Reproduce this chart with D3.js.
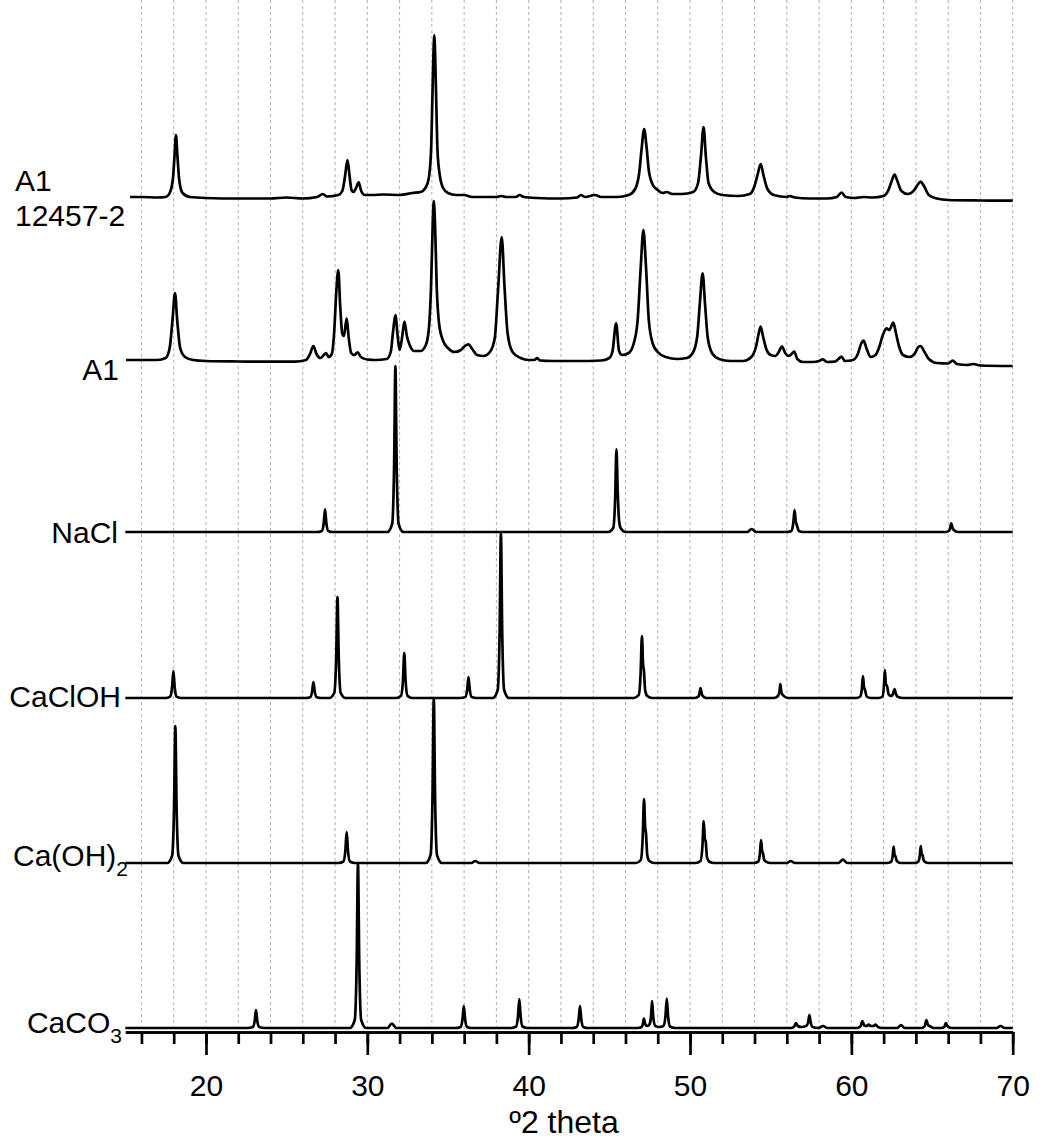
<!DOCTYPE html>
<html><head><meta charset="utf-8">
<script src="https://cdn.jsdelivr.net/npm/d3@7"></script>
<style>body{margin:0;background:#fff}svg{display:block}</style>
</head><body><svg id="c" width="1040" height="1147"></svg>
<script>
// ---------- DATA (2θ in degrees, intensity in relative counts) ----------
const seriesNames = ["CaCO3", "Ca(OH)2", "CaClOH", "NaCl", "A1", "A1 12457-2"];
const seriesOffsets = [0, 165, 330, 496, 662, 827];

const caco3 = [[15,0],[22.6,0],[22.9,1],[23.02,7],[23.1,18],[23.18,7],[23.3,1],[23.6,0],
[28.92,0],[29.22,8],[29.34,66],[29.42,165],[29.5,66],[29.62,8],[29.92,0],
[31.25,0],[31.52,4.5],[31.8,0],
[35.48,0],[35.78,1.1],[35.9,9],[35.98,22],[36.06,9],[36.18,1.1],[36.48,0],
[38.92,0],[39.22,1.5],[39.34,12],[39.42,29],[39.5,12],[39.62,1.5],[39.92,0],
[42.68,0],[42.98,1.1],[43.1,9],[43.18,22],[43.26,9],[43.38,1.1],[43.68,0],
[46.75,0],[47.0,1],[47.08,4],[47.14,9.5],[47.22,4],[47.35,2],[47.5,4],[47.58,11],[47.65,27],[47.72,11],[47.85,2],[48.1,1],[48.35,2],[48.48,12],[48.56,29.5],[48.64,12],[48.76,1.5],[49.06,0],
[56.3,0],[56.48,2],[56.56,5],[56.68,2],[56.9,1],[57.2,2],[57.32,5.5],[57.4,13],[57.48,5.5],[57.6,1],[57.95,0],[58.25,2],[58.5,0],
[60.35,0],[60.58,2],[60.68,7],[60.8,2.5],[60.95,2],[61.07,3.5],[61.2,2],[61.38,2],[61.5,3.5],[61.65,1],[61.9,0],
[62.85,0],[63.08,3],[63.3,0],
[64.35,0],[64.55,2],[64.65,8],[64.75,3],[64.85,2],[65.1,0],
[65.6,0],[65.78,1.5],[65.85,5],[65.95,2],[66.2,0],
[69.0,0],[69.25,2],[69.5,0],[70,0]];

const caoh2 = [[15,0],[17.6,0],[17.9,7],[18.02,55],[18.1,137],[18.18,55],[18.3,7],[18.6,0],
[28.22,0],[28.52,1.5],[28.64,12.5],[28.72,31],[28.8,12.5],[28.92,1.5],[29.22,0],
[33.62,0],[33.92,8],[34.04,66],[34.12,165],[34.2,66],[34.32,8],[34.62,0],
[36.45,0],[36.69,2],[36.95,0],
[46.65,0],[46.95,3],[47.07,26],[47.15,64],[47.22,36],[47.27,30],[47.35,8],[47.48,2],[47.78,0],
[50.35,0],[50.65,2],[50.77,17],[50.85,42],[50.92,24],[50.97,22],[51.05,6],[51.18,1.5],[51.48,0],
[53.95,0],[54.22,1.2],[54.33,9],[54.4,23],[54.47,12],[54.52,10],[54.6,3],[54.75,1],[55.0,0],
[56.0,0],[56.24,2],[56.5,0],
[59.2,0],[59.47,3.3],[59.75,0],
[62.2,0],[62.45,1],[62.56,7],[62.62,16.3],[62.68,8],[62.73,7],[62.82,2],[63.05,0],
[63.88,0],[64.13,1],[64.24,7],[64.3,17],[64.36,9],[64.41,8],[64.5,2],[64.75,0],[70,0]];

const cacloh = [[15,0],[17.48,0],[17.78,1.4],[17.9,11],[17.98,27],[18.06,11],[18.18,1.4],[18.48,0],
[26.16,0],[26.46,0.8],[26.58,6.5],[26.66,16],[26.74,6.5],[26.86,0.8],[27.16,0],
[27.65,0],[27.95,5],[28.07,40],[28.15,101],[28.23,40],[28.35,5],[28.65,0],
[31.79,0],[32.09,2.3],[32.21,18],[32.29,45],[32.37,18],[32.49,2.3],[32.79,0],
[35.77,0],[36.07,1],[36.19,8.4],[36.27,21],[36.35,8.4],[36.47,1],[36.77,0],
[37.78,0],[38.08,8],[38.2,66],[38.28,165],[38.36,66],[38.48,8],[38.78,0],
[46.52,0],[46.82,3],[46.94,25],[47.02,62],[47.09,34],[47.14,28],[47.22,8],[47.35,2],[47.65,0],
[50.3,0],[50.55,2],[50.65,10],[50.75,3],[51.0,0],
[55.2,0],[55.45,2],[55.55,7],[55.6,14],[55.66,6],[55.75,3],[56.05,0],
[60.3,0],[60.55,1.5],[60.65,9],[60.72,22],[60.78,11],[60.85,8],[60.95,1.5],[61.2,0],
[61.7,0],[61.93,1.5],[62.02,12],[62.08,28],[62.14,13],[62.2,13],[62.3,4],[62.45,2],[62.58,4],[62.68,9],[62.76,4],[62.9,1],[63.2,0],[70,0]];

const nacl = [[15,0],[26.88,0],[27.18,1.1],[27.3,9],[27.38,22.7],[27.46,9],[27.58,1.1],[27.88,0],
[31.24,0],[31.54,8],[31.66,66],[31.74,166],[31.82,66],[31.94,8],[32.24,0],
[44.94,0],[45.24,4],[45.36,33],[45.44,82.7],[45.52,40],[45.6,12],[45.7,4],[46.0,0],
[53.55,0],[53.82,3],[54.1,0],
[55.98,0],[56.28,1.1],[56.4,9],[56.48,22],[56.55,11],[56.62,7],[56.75,1],[57.0,0],
[65.85,0],[66.08,1.5],[66.19,8.7],[66.27,4],[66.35,2],[66.6,0],[70,0]];

const a1 = [[15.05,6],[16,6],[17,6],[17.5,8],[17.75,18],[17.92,45],[18.08,73],[18.22,45],[18.4,18],[18.7,9],[19.2,6],[20,5],[22,4.5],[24,4.3],[25.5,4.3],
[26.2,6],[26.45,12],[26.66,20],[26.85,12],[27.1,8],[27.3,11],[27.44,13],[27.6,9],[27.8,12],[27.95,35],[28.08,75],[28.2,96],[28.32,60],[28.45,32],[28.55,30],[28.72,47.7],[28.85,28],[29.0,13],[29.2,11],[29.4,13.7],[29.6,9],[30,6.5],[30.5,6],
[31.2,7],[31.45,14],[31.6,35],[31.74,51],[31.88,30],[32.0,16],[32.15,28],[32.3,44.3],[32.45,30],[32.65,20],[32.9,15],[33.3,15],[33.6,20],[33.8,35],[33.95,80],[34.05,140],[34.12,165],[34.2,140],[34.3,80],[34.45,42],[34.7,25],[35.0,18],[35.4,14],
[35.8,16],[36.05,20],[36.27,21.7],[36.5,17],[36.8,11],[37.2,10],[37.6,14],[37.9,28],[38.1,75],[38.33,129],[38.5,80],[38.7,32],[39.0,14],[39.5,8],[40.0,6],[40.35,6],[40.53,8],[40.7,5.5],[41.5,5],[43,5],[44.5,5.5],
[45.0,8],[45.2,15],[45.42,42.7],[45.6,15],[45.8,11],[46.2,13],[46.5,22],[46.75,45],[46.95,100],[47.11,136],[47.27,100],[47.45,45],[47.7,22],[48.0,14],[48.5,9],[49.2,7],
[49.8,8],[50.2,14],[50.45,30],[50.62,65],[50.78,92.7],[50.94,60],[51.1,28],[51.4,12],[51.8,7],[52.5,5],[53.3,5],
[53.8,9],[54.1,20],[54.25,32],[54.38,39.3],[54.52,30],[54.75,16],[55.0,11],[55.3,10],[55.5,14],[55.7,19.3],[55.9,13],[56.1,10],[56.3,12],[56.46,14.3],[56.65,7],[57.0,4],[57.6,4],[58.0,5],[58.23,6.7],[58.5,4],[59.0,4.5],[59.2,7],[59.39,9.3],[59.6,5],
[60.1,6],[60.4,12],[60.6,22],[60.76,25.3],[60.95,17],[61.2,9],[61.5,11],[61.75,20],[61.95,31],[62.18,37.7],[62.35,36],[62.6,43.3],[62.75,34],[62.95,20],[63.2,11],[63.6,9],[63.95,13],[64.15,19],[64.3,20],[64.5,15],[64.8,7],[65.3,3],[66.0,2.5],[66.28,5.3],[66.55,2],[67.2,1],[67.54,2],[68.0,0.5],[70,0]];

const a1_12457 = [[15.3,4],[16,4],[17,3.5],[17.5,4],[17.75,8],[17.95,22],[18.05,45],[18.14,66],[18.23,45],[18.35,20],[18.55,8],[19,4],[20,3],[22,2.5],[24,2.5],[25,3.5],[26,2.5],[26.9,4],[27.24,7],[27.5,4.5],
[28.2,6],[28.45,10],[28.62,25],[28.77,41],[28.9,25],[29.02,11],[29.15,9],[29.3,13],[29.47,18.7],[29.62,10],[29.85,6],[30.3,6],[31,6.5],[32,6],[32.8,8],
[33.3,9],[33.6,13],[33.8,22],[33.95,50],[34.05,115],[34.15,166],[34.25,115],[34.35,50],[34.5,25],[34.7,13],[35.0,8],[35.5,6],[36,6],[36.5,4],[38,4],[38.3,5],[38.6,4],[39.2,4],[39.44,6],[39.7,4],[40.5,3],[42,2.5],[43,3.5],[43.24,6],[43.5,4],[44.1,6],[44.5,4],[45.5,4],
[46.2,6],[46.6,12],[46.85,28],[47.0,52],[47.16,72],[47.3,55],[47.45,30],[47.7,16],[48,11],[48.3,8],[48.56,9],[48.9,7],[49.5,7],
[50.2,9],[50.5,18],[50.68,45],[50.84,74],[50.98,45],[51.15,18],[51.5,9],[52,6],[53,5],
[53.7,7],[54.0,15],[54.2,27],[54.38,37],[54.55,26],[54.8,12],[55.2,6],[56,4],[56.15,5],[56.5,3.5],[57.4,2.5],[58.5,2.5],[59.1,4],[59.39,8.5],[59.65,4],[60.2,3],[60.76,4],[61.3,3.5],
[62,5],[62.3,11],[62.5,20],[62.68,26.5],[62.85,20],[63.1,10],[63.5,7],[63.9,11],[64.1,16],[64.3,19.3],[64.5,15],[64.8,6],[65.3,2.5],[66,1],[68,0.5],[70,0.3]];

const seriesData = [caco3, caoh2, cacloh, nacl, a1, a1_12457];

const majorTicks = [20, 30, 40, 50, 60, 70];
const minorTicks = [16,18,20,22,24,26,28,30,32,34,36,38,40,42,44,46,48,50,52,54,56,58,60,62,64,66,68,70];
const xTitle = "º2 theta";

// ---------- DRAWING ----------
(function () {
const FONT = "'Liberation Sans', Arial, sans-serif";
const svg = d3.select("#c");
const axisY = 1032;
const x = d3.scaleLinear().domain([15, 70]).range([125.3, 1012.7]);
const y = d3.scaleLinear().domain([0, 1028]).range([1028, 0]);

// dotted vertical grid
svg.append("g").selectAll("line").data(minorTicks).join("line")
  .attr("x1", d => x(d)).attr("x2", d => x(d))
  .attr("y1", 0).attr("y2", axisY)
  .attr("stroke", "#b0b0b0").attr("stroke-width", 1).attr("stroke-dasharray", "3,3");

// traces
const gTr = svg.append("g");
seriesData.forEach((data, i) => {
  const off = seriesOffsets[i];
  const line = d3.line().x(d => x(d[0])).y(d => y(d[1] + off)).curve(d3.curveMonotoneX);
  gTr.append("path").datum(data).attr("d", line)
    .attr("fill", "none").attr("stroke", "#000").attr("stroke-width", 2.7)
    .attr("stroke-linejoin", "round");
});

// axis
const minorAxis = d3.axisBottom(x).tickValues(minorTicks).tickSize(12).tickSizeOuter(0).tickFormat("");
const majorAxis = d3.axisBottom(x).tickValues(majorTicks).tickSize(23).tickSizeOuter(0).tickPadding(20).tickFormat(d3.format("d"));
const gMin = svg.append("g").attr("transform", `translate(0,${axisY})`).call(minorAxis);
const gMaj = svg.append("g").attr("transform", `translate(0,${axisY})`).call(majorAxis);
[gMin, gMaj].forEach(g => {
  g.select(".domain").attr("stroke", "#000").attr("stroke-width", 2.7);
  g.selectAll(".tick line").attr("stroke", "#000").attr("stroke-width", 2.7);
});
gMaj.selectAll(".tick text").attr("font-family", FONT).attr("font-size", 30).attr("fill", "#000");

svg.append("text").attr("x", (x(15) + x(70)) / 2 - 5).attr("y", 1133)
  .attr("text-anchor", "middle").attr("font-family", FONT).attr("font-size", 32)
  .text(xTitle);

// series labels
function addLabel(name, xEnd, yBase, sub) {
  const t = svg.append("text").attr("x", xEnd).attr("y", yBase)
    .attr("text-anchor", "end").attr("font-family", FONT).attr("font-size", 30);
  if (sub) {
    t.append("tspan").text(name.slice(0, -1));
    t.append("tspan").attr("font-size", 21).attr("dy", 10).text(name.slice(-1));
  } else {
    t.text(name);
  }
}
addLabel(seriesNames[0], 122, y(seriesOffsets[0]) + 5, true);
addLabel(seriesNames[1], 128, y(seriesOffsets[1]) + 3, true);
addLabel(seriesNames[2], 121, y(seriesOffsets[2]) + 9, false);
addLabel(seriesNames[3], 118, y(seriesOffsets[3]) + 11, false);
addLabel(seriesNames[4], 119, y(seriesOffsets[4]) + 4 + 10, false);
const parts = seriesNames[5].split(" ");
const tt = svg.append("text").attr("font-family", FONT).attr("font-size", 30);
tt.append("tspan").attr("x", 15).attr("y", y(seriesOffsets[5]) - 10).text(parts[0]);
tt.append("tspan").attr("x", 15).attr("y", y(seriesOffsets[5]) + 25).text(parts[1]);
})();
</script>
</body></html>
